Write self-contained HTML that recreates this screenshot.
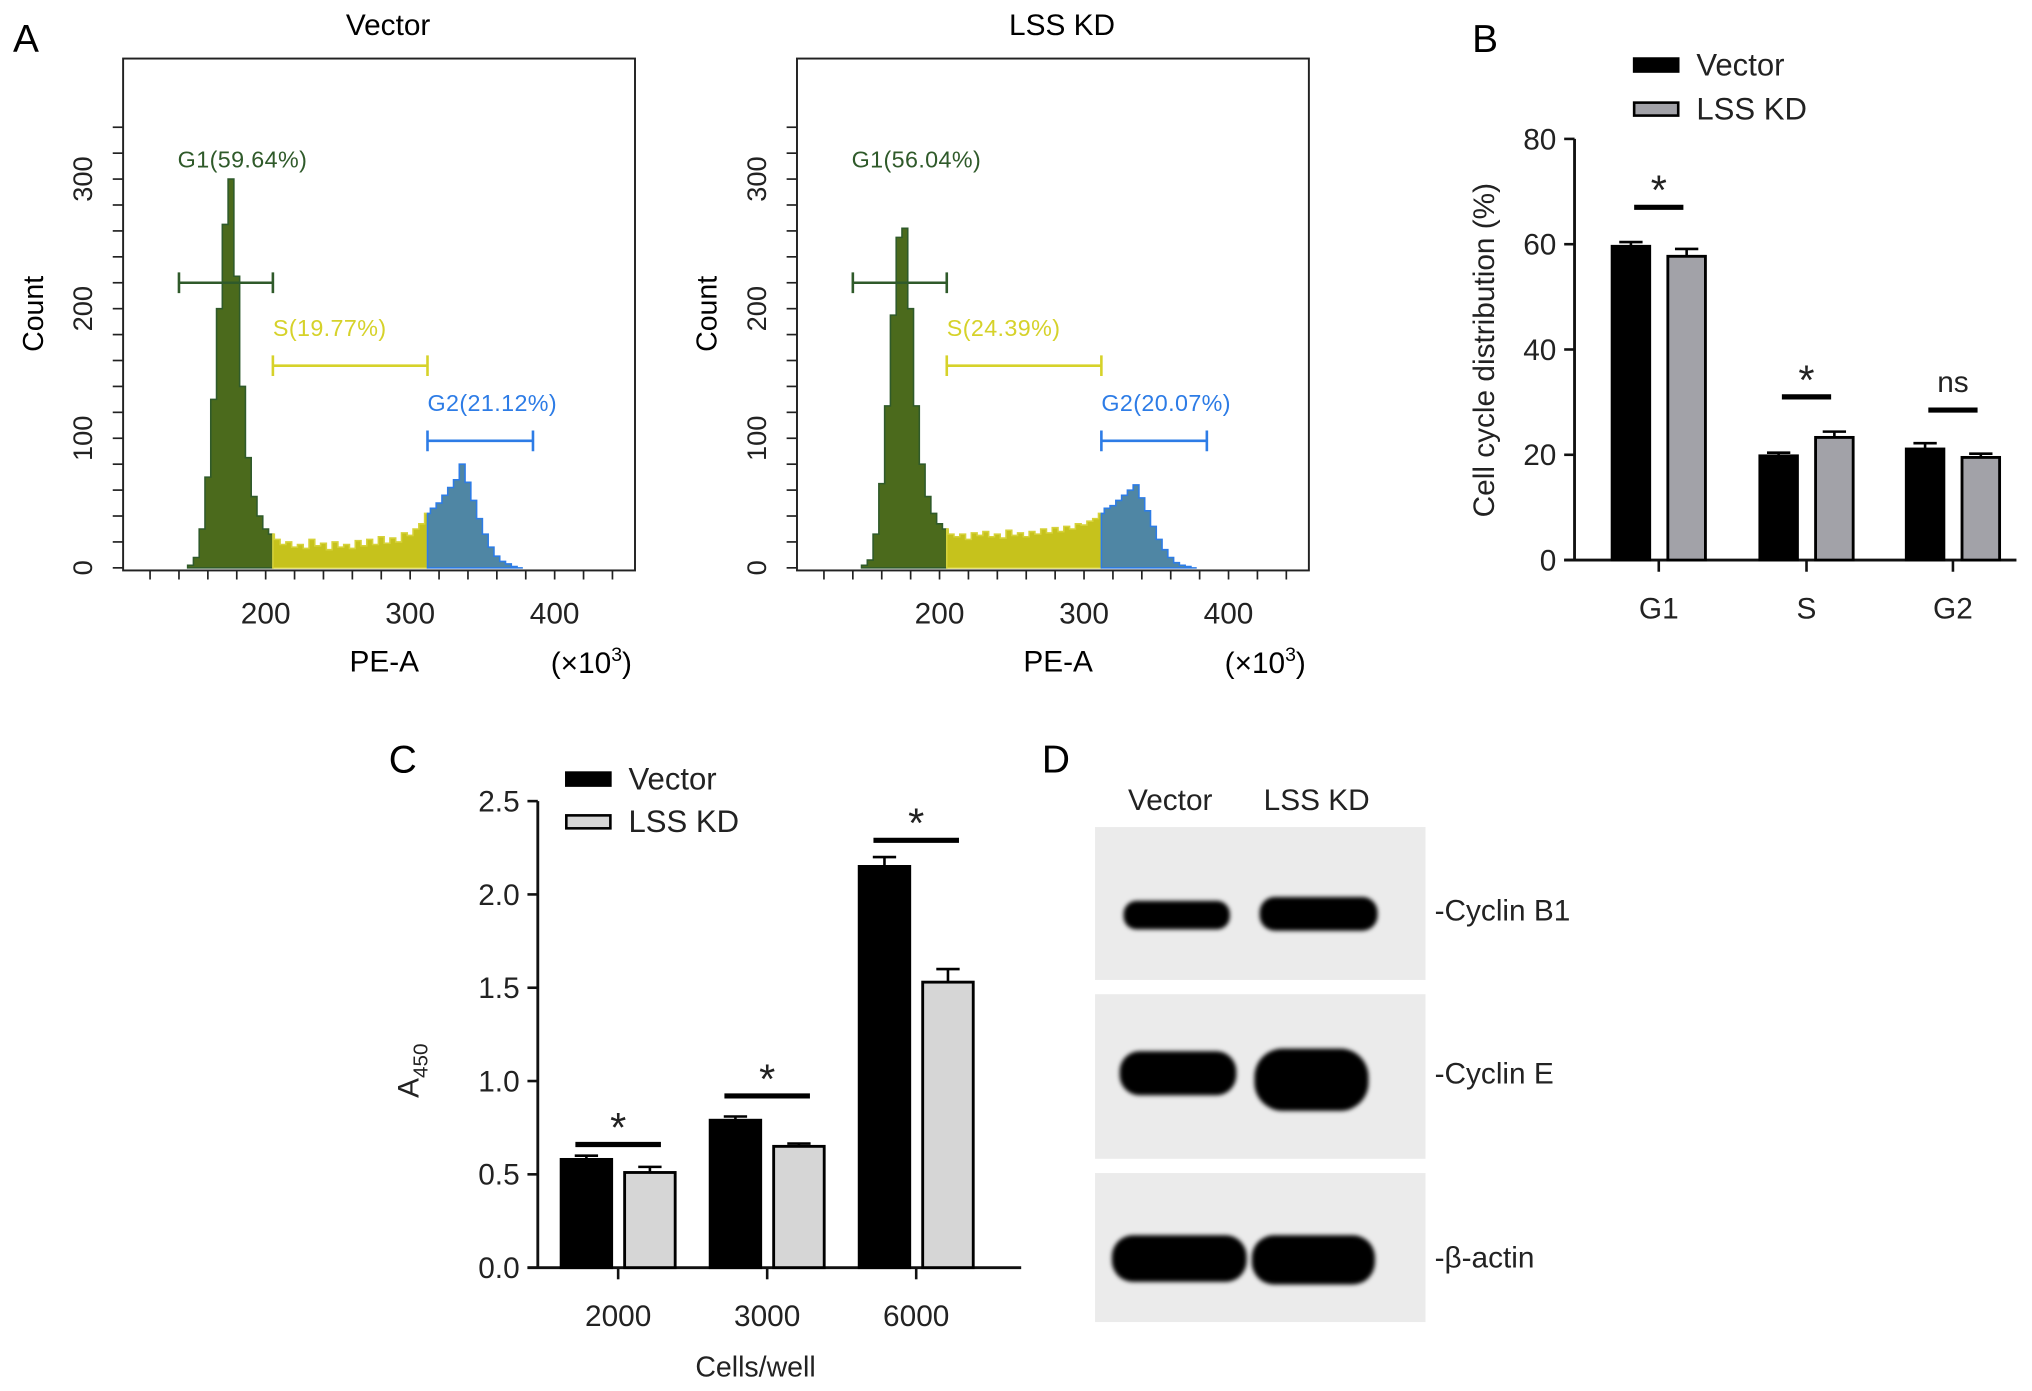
<!DOCTYPE html>
<html><head><meta charset="utf-8"><style>
html,body{margin:0;padding:0;background:#fff}
svg{display:block;font-family:"Liberation Sans",Arial,sans-serif}
</style></head><body>
<svg id="fig" width="2032" height="1391" viewBox="0 0 1568 1073" xmlns="http://www.w3.org/2000/svg">
<defs><filter id="soft" x="-10%" y="-30%" width="120%" height="160%"><feGaussianBlur stdDeviation="1.6"/></filter></defs>
<text x="10" y="40" font-size="30">A</text>
<text x="1136" y="40" font-size="30">B</text>
<text x="300" y="596" font-size="30">C</text>
<text x="804" y="596" font-size="30">D</text>
<g id="flowA1"></g>
<g id="flowA2"></g>
<g id="chartB"></g>
<g id="chartC"></g>
<g id="blotD"></g>
</svg>
<script>
// ---------- Panel A data ----------
const binStarts = [146,150,154,158,162,166,170,174,178,182,186,190,194,198,202,206,210,214,218,222,226,230,234,238,242,246,250,254,258,262,266,270,274,278,282,286,290,294,298,302,306,310,314,318,322,326,330,334,338,342,346,350,354,358,362,366,370,374];
const vectorCounts = [2,8,30,70,130,200,265,300,225,140,85,55,40,30,26,22,18,20,16,18,15,22,17,19,14,20,16,18,15,21,17,22,18,24,19,23,20,27,25,30,34,42,46,50,56,62,68,80,66,52,38,26,16,9,5,3,1,0];
const lssCounts   = [2,6,26,65,125,195,255,262,200,125,80,55,42,34,30,26,24,26,22,27,25,28,24,26,23,29,25,27,24,28,26,30,27,31,28,32,30,34,33,36,38,42,46,48,52,56,60,64,54,44,32,22,14,8,4,2,1,0];
const gateG1 = [140,205], gateS = [205,312], gateG2 = [312,385];
const vectorLabels = ["G1(59.64%)","S(19.77%)","G2(21.12%)"];
const lssLabels = ["G1(56.04%)","S(24.39%)","G2(20.07%)"];
const flowYTicks = [0,100,200,300];
const flowXTicks = [200,300,400];

// ---------- Panel B data ----------
const phases = ["G1","S","G2"];
const bVector = [59.6,19.8,21.1];
const bVectorErr = [0.8,0.6,1.1];
const bLss = [57.7,23.3,19.5];
const bLssErr = [1.4,1.1,0.7];
const bSig = ["*","*","ns"];
const bSigY = [67,31,28.5];
const bTicks = [0,20,40,60,80];

// ---------- Panel C data ----------
const cells = ["2000","3000","6000"];
const cVector = [0.58,0.79,2.15];
const cVectorErr = [0.02,0.02,0.05];
const cLss = [0.51,0.65,1.53];
const cLssErr = [0.03,0.015,0.07];
const cSigY = [0.66,0.92,2.29];
const cTicks = [0,0.5,1.0,1.5,2.0,2.5];

const NS="http://www.w3.org/2000/svg";
function mk(parent,tag,attrs,txt){const e=document.createElementNS(NS,tag);for(const k in attrs)e.setAttribute(k,attrs[k]);if(txt!==undefined)e.textContent=txt;parent.appendChild(e);return e;}

function flow(g,dx,title,counts,labels){
  const L=95+dx,R=490+dx,T=45,B=440;
  const x=v=>205+dx+(v-200)*1.115;
  const y=c=>438-c*1.0;
  let t=mk(g,'text',{x:(L+R)/2+7,y:27,'font-size':23,'text-anchor':'middle'},title);
  
  
  const bw=4;
  const regions=[[gateG1[0],gateS[0],'#4b6a1c','#2f5a2a'],[gateS[0],gateG2[0],'#c6c21c','#d6d23a'],[gateG2[0],400,'#4f86a4','#2d7ce6']];
  regions.forEach((r,ri)=>{
    let d='';let started=false;let lastX=null;
    binStarts.forEach((b,i)=>{
      if(b<r[0]-3||b>=r[1]-1)return;
      const x0=x(Math.max(b,r[0])),x1=x(Math.min(b+bw,r[1]));
      if(!started){d+=`M${x0},${y(0)}`;started=true;}
      d+=` L${x0},${y(counts[i])} L${x1},${y(counts[i])}`;lastX=x1;
    });
    if(started){d+=` L${lastX},${y(0)} Z`;
      const p=mk(g,'path',{d:d,fill:r[2],stroke:r[3],'stroke-width':1.2});
      
      }
  });
  const f=mk(g,'rect',{x:L,y:T,width:R-L,height:B-T,fill:'none',stroke:'#222','stroke-width':1.5});
  
  for(let c=0;c<=340;c+=20){mk(g,'line',{x1:L-8,x2:L,y1:y(c),y2:y(c),stroke:'#222','stroke-width':1.3});}
  flowYTicks.forEach(c=>{const tt=mk(g,'text',{transform:`translate(${L-24},${y(c)}) rotate(-90)`,'font-size':21,'text-anchor':'middle',fill:'#222'},String(c));
    });
  for(let v=120;v<=450;v+=20){mk(g,'line',{x1:x(v),x2:x(v),y1:B,y2:B+7,stroke:'#222','stroke-width':1.3});}
  flowXTicks.forEach(v=>{const tt=mk(g,'text',{x:x(v),y:481,'font-size':23,'text-anchor':'middle',fill:'#222'},String(v));
    });
  let yl=mk(g,'text',{transform:`translate(${L-62},242) rotate(-90)`,'font-size':22,'text-anchor':'middle'},'Count');
  
  let xl=mk(g,'text',{x:x(300)-20,y:518,'font-size':23,'text-anchor':'middle'},'PE-A');
  
  let xu=mk(g,'text',{x:R-65,y:519,'font-size':23},'(×10');
  
  mk(xu,'tspan',{dy:-9,'font-size':15},'3');
  mk(xu,'tspan',{dy:9},')');
  const gates=[[gateG1,218,'#2f5a2a',labels[0],122],[gateS,282,'#d6d22a',labels[1],252],[gateG2,340,'#2d7ce6',labels[2],310]];
  gates.forEach((gt,gi)=>{
    const a=x(gt[0][0]),b=x(gt[0][1]);
    const ln=mk(g,'path',{d:`M${a},${gt[1]} H${b} M${a},${gt[1]-8} V${gt[1]+8} M${b},${gt[1]-8} V${gt[1]+8}`,stroke:gt[2],'stroke-width':2,fill:'none'});
    
    const lx = gi===0? x(175)-40 : a;
    const lt=mk(g,'text',{x:lx,y:gt[4]+7,'font-size':18,fill:gt[2],'letter-spacing':'0.3'},gt[3]);
    
  });
}
flow(document.getElementById('flowA1'),0,'Vector',vectorCounts,vectorLabels);
flow(document.getElementById('flowA2'),520,'LSS KD',lssCounts,lssLabels);

function bars(g,o){
  const y=v=>o.y0-(v-o.min)/(o.max-o.min)*(o.y0-o.yTop);
  mk(g,'line',{x1:o.axX,x2:o.axX,y1:o.y0,y2:o.yTop,stroke:'#111','stroke-width':2.2});
  mk(g,'line',{x1:o.axX-8,x2:o.axR,y1:o.y0,y2:o.y0,stroke:'#111','stroke-width':2.2});
  o.ticks.forEach(v=>{mk(g,'line',{x1:o.axX-8,x2:o.axX,y1:y(v),y2:y(v),stroke:'#111','stroke-width':2});
    const t=mk(g,'text',{x:o.axX-14,y:y(v)+8,'font-size':23,'text-anchor':'end',fill:'#222'},o.fmt(v));
    });
  o.cats.forEach((c,i)=>{
    const cx=o.cx[i];
    mk(g,'line',{x1:cx,x2:cx,y1:o.y0,y2:o.y0+9,stroke:'#111','stroke-width':2});
    const t=mk(g,'text',{x:cx,y:o.y0+45,'font-size':23,'text-anchor':'middle',fill:'#222'},c);
    
    [[o.a,o.ae,'#000'],[o.b,o.be,o.bFill]].forEach((s,si)=>{
      const bx = si===0? cx-o.off-o.bw : cx+o.off;
      const top=y(s[0][i]);
      const r=mk(g,'rect',{x:bx,y:top,width:o.bw,height:o.y0-top,fill:s[2],stroke:'#000','stroke-width':2.2});
      
      
      const et=y(s[0][i]+s[1][i]);
      const e=mk(g,'path',{d:`M${bx+o.bw/2},${top} V${et} M${bx+o.bw/2-9},${et} H${bx+o.bw/2+9}`,stroke:'#000','stroke-width':2,fill:'none'});
      
    });
    const sy=y(o.sigY[i]);
    const sl=mk(g,'line',{x1:cx-o.sigW/2,x2:cx+o.sigW/2,y1:sy,y2:sy,stroke:'#000','stroke-width':4});
    
    const st=mk(g,'text',{x:cx,y:o.sig[i]==='ns'?sy-14:sy-2,'font-size':o.sig[i]==='ns'?23:32,'text-anchor':'middle',fill:'#222'},o.sig[i]);
    
  });
  [[o.legY[0],'#000','Vector'],[o.legY[1],o.bFill,'LSS KD']].forEach((l,li)=>{
    const r=mk(g,'rect',{x:o.legX,y:l[0]-5,width:34,height:10,fill:l[1],stroke:'#000','stroke-width':2});
    
    const t=mk(g,'text',{x:o.legX+48,y:l[0]+8,'font-size':24,fill:'#222'},l[2]);
    
  });
}
const gB=document.getElementById('chartB');
bars(gB,{min:0,max:80,y0:432,yTop:107,axX:1215,axR:1556,ticks:bTicks,fmt:v=>String(v),cats:phases,cx:[1280,1394,1507],
  a:bVector,ae:bVectorErr,b:bLss,be:bLssErr,bFill:'#a2a2a8',off:7,bw:29,sig:bSig,sigY:bSigY,sigW:38,legX:1261,legY:[50,84]});
let tb=mk(gB,'text',{transform:'translate(1153,270) rotate(-90)','font-size':23,'text-anchor':'middle',fill:'#222'},'Cell cycle distribution (%)');


const gC=document.getElementById('chartC');
bars(gC,{min:0,max:2.5,y0:978,yTop:618,axX:415,axR:788,ticks:cTicks,fmt:v=>v.toFixed(1),cats:cells,cx:[477,592,707],
  a:cVector,ae:cVectorErr,b:cLss,be:cLssErr,bFill:'#d6d6d6',off:5,bw:39,sig:["*","*","*"],sigY:cSigY,sigW:66,legX:437,legY:[601,634]});
let tc=mk(gC,'text',{x:583,y:1062,'font-size':22,'text-anchor':'middle',fill:'#222'},'Cells/well');

let ta=mk(gC,'text',{transform:'translate(323,826) rotate(-90)','font-size':23,'text-anchor':'middle',fill:'#222'},'A');

mk(ta,'tspan',{dy:7,'font-size':16},'450');

// ---------- Panel D ----------
const gD=document.getElementById('blotD');
const lanes=["Vector","LSS KD"];
const laneX=[903,1016];
lanes.forEach((l,i)=>{const t=mk(gD,'text',{x:laneX[i],y:625,'font-size':23,'text-anchor':'middle',fill:'#222'},l);
  });
const blots=[
  {y:638,h:118,label:'-Cyclin B1',bands:[[867,695,82,22],[972,692,91,26]],ly:710},
  {y:767,h:127,label:'-Cyclin E',bands:[[864,811,90,34],[968,809,88,48]],ly:836},
  {y:905,h:115,label:'-β-actin',bands:[[858,953,104,36],[966,953,95,38]],ly:978}
];
blots.forEach((b,i)=>{
  const r=mk(gD,'rect',{x:845,y:b.y,width:255,height:b.h,fill:'#ebebeb'});
  
  b.bands.forEach(bd=>{const e=mk(gD,'rect',{x:bd[0],y:bd[1],width:bd[2],height:bd[3],rx:bd[3]/2.2,fill:'#050505',filter:'url(#soft)'});
    });
  const t=mk(gD,'text',{x:1107,y:b.ly,'font-size':23,fill:'#222'},b.label);
  
});
</script>
</body></html>
